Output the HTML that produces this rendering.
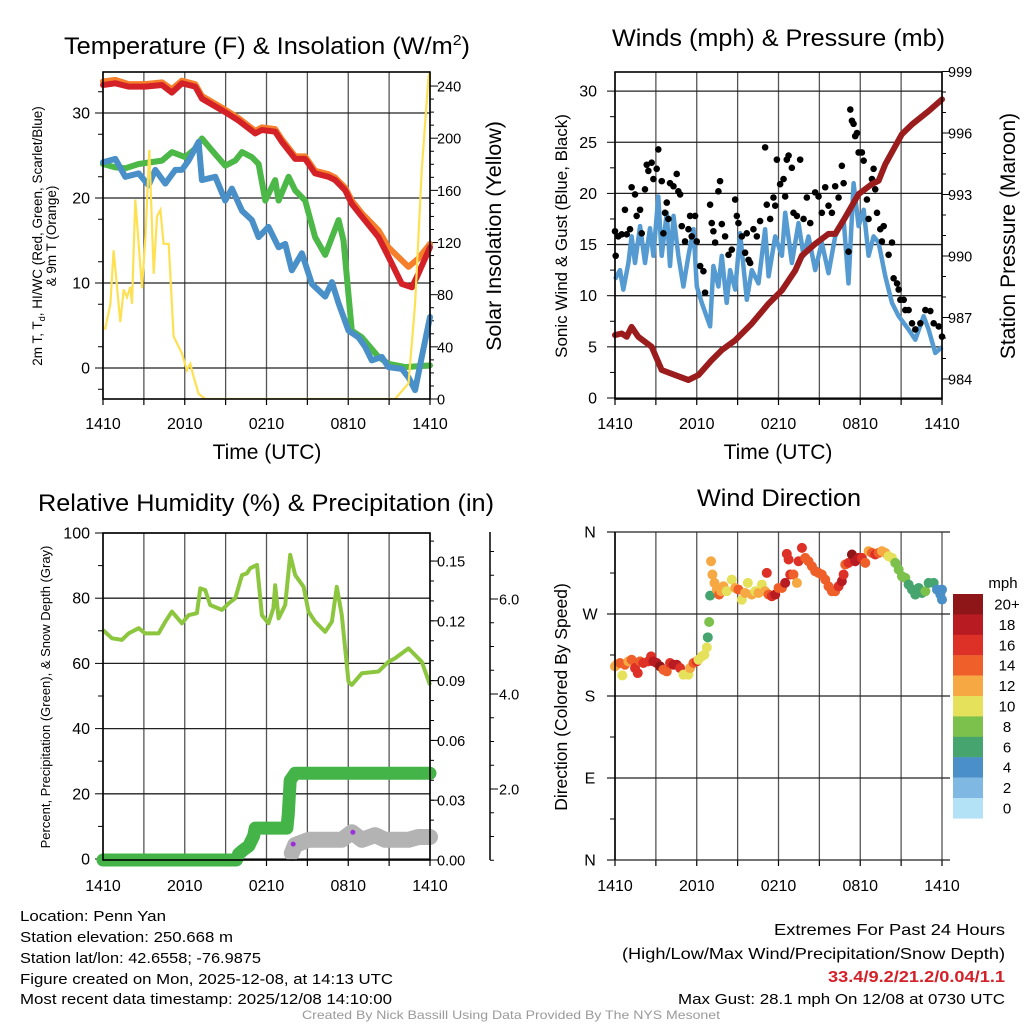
<!DOCTYPE html>
<html><head><meta charset="utf-8"><style>
html,body{margin:0;padding:0;background:#fff;}
svg{display:block;font-family:"Liberation Sans",sans-serif;}
</style></head><body>
<svg id="fig" width="1024" height="1024" viewBox="0 0 1024 1024" xmlns="http://www.w3.org/2000/svg">
<rect width="1024" height="1024" fill="#fff"/>
<g id="p1"></g>
<g id="p2"></g>
<g id="p3"></g>
<g id="p4"></g>

<text x="64" y="54" font-size="24" textLength="406" lengthAdjust="spacingAndGlyphs">Temperature (F) &amp; Insolation (W/m<tspan dy="-9" font-size="15">2</tspan><tspan dy="9">)</tspan></text>
<text x="612" y="46" font-size="24" textLength="333" lengthAdjust="spacingAndGlyphs">Winds (mph) &amp; Pressure (mb)</text>
<text x="38" y="511" font-size="24" textLength="456" lengthAdjust="spacingAndGlyphs">Relative Humidity (%) &amp; Precipitation (in)</text>
<text x="697" y="506" font-size="24" textLength="164" lengthAdjust="spacingAndGlyphs">Wind Direction</text>

<text x="267" y="459" font-size="21" text-anchor="middle">Time (UTC)</text>
<text x="778" y="459" font-size="21" text-anchor="middle">Time (UTC)</text>

<text transform="translate(42,236) rotate(-90)" font-size="13.5" text-anchor="middle">2m T, T<tspan dy="3" font-size="9">d</tspan><tspan dy="-3">, HI/WC (Red, Green, Scarlet/Blue)</tspan></text>
<text transform="translate(56,236) rotate(-90)" font-size="13.5" text-anchor="middle">&amp; 9m T (Orange)</text>
<text transform="translate(501,236) rotate(-90)" font-size="21.5" text-anchor="middle">Solar Insolation (Yellow)</text>
<text transform="translate(567,236) rotate(-90)" font-size="17" text-anchor="middle">Sonic Wind &amp; Gust (Blue, Black)</text>
<text transform="translate(1015,236) rotate(-90)" font-size="21" text-anchor="middle">Station Pressure (Maroon)</text>
<text transform="translate(50,697) rotate(-90)" font-size="13" text-anchor="middle">Percent, Precipitation (Green), &amp; Snow Depth (Gray)</text>
<text transform="translate(567,697) rotate(-90)" font-size="17.5" text-anchor="middle">Direction (Colored By Speed)</text>

<g font-size="15">
<text x="20" y="921" textLength="146" lengthAdjust="spacingAndGlyphs">Location: Penn Yan</text>
<text x="20" y="942" textLength="213" lengthAdjust="spacingAndGlyphs">Station elevation: 250.668 m</text>
<text x="20" y="963" textLength="241" lengthAdjust="spacingAndGlyphs">Station lat/lon: 42.6558; -76.9875</text>
<text x="20" y="984" textLength="373" lengthAdjust="spacingAndGlyphs">Figure created on Mon, 2025-12-08, at 14:13 UTC</text>
<text x="20" y="1004" textLength="372" lengthAdjust="spacingAndGlyphs">Most recent data timestamp: 2025/12/08 14:10:00</text>
</g>
<g font-size="16">
<text x="774" y="935" textLength="231" lengthAdjust="spacingAndGlyphs">Extremes For Past 24 Hours</text>
<text x="622" y="959" textLength="383" lengthAdjust="spacingAndGlyphs">(High/Low/Max Wind/Precipitation/Snow Depth)</text>
<text x="828" y="982" fill="#d42027" font-weight="bold" font-size="16" textLength="177" lengthAdjust="spacingAndGlyphs">33.4/9.2/21.2/0.04/1.1</text>
<text x="678" y="1004" font-size="15" textLength="327" lengthAdjust="spacingAndGlyphs">Max Gust: 28.1 mph On 12/08 at 0730 UTC</text>
</g>
<text x="302" y="1019" font-size="12" fill="#9a9a9a" textLength="418" lengthAdjust="spacingAndGlyphs">Created By Nick Bassill Using Data Provided By The NYS Mesonet</text>
</svg>
<script>
// ---------- data (hours since 1410 UTC) ----------
const xTickLabels = ["1410","2010","0210","0810","1410"];
const tempTicks = [0,10,20,30];
const insTicks = [0,40,80,120,160,200,240];
const windTicks = [0,5,10,15,20,25,30];
const presTicks = [984,987,990,993,996,999];
const rhTicks = [0,20,40,60,80,100];
const prTicks = [0,0.03,0.06,0.09,0.12,0.15];
const prTickLabels = ["0.00","0.03","0.06","0.09","0.12","0.15"];
const snowTicks = [2,4,6];
const dirTickLabels = ["N","E","S","W","N"];
const dirTicks = [0,90,180,270,360];

const tT = [0,0.9,1.88,3.1,4.33,5.06,5.79,6.77,7.26,8.97,9.95,11.17,11.66,12.64,13.13,14.11,14.84,15.57,16.55,17.04,17.78,18.26,19.0,20.22,20.95,21.93,22.67,23.03,23.89,24];
const tempV = [33.3,33.5,33.1,33.1,33.3,32.4,33.5,33.1,31.7,30.1,29.1,27.6,28.0,27.8,26.6,24.6,24.6,22.9,22.5,22.1,20.9,19.3,17.8,15.4,13.1,9.9,9.5,10.7,13.8,14.2];
const t9T = [0,0.9,1.88,3.1,4.33,5.06,5.79,6.77,7.26,8.97,9.95,11.17,11.66,12.64,13.13,14.11,14.84,15.57,16.55,17.04,17.78,18.26,19.0,20.22,20.95,22.42,23.15,24];
const t9V = [33.7,33.9,33.4,33.4,33.6,32.8,33.8,33.4,32.0,30.4,29.4,27.9,28.3,28.1,26.9,24.9,24.9,23.2,22.8,22.4,21.2,19.7,18.2,16.2,14.2,11.9,12.9,14.6];
const tdT = [0,0.9,1.64,2.62,4.33,5.06,6.04,6.77,7.26,8.0,8.97,9.71,10.2,10.93,11.42,11.91,12.64,12.89,13.62,14.11,14.84,15.57,16.31,17.29,17.65,18.26,19.0,20.22,20.95,22.18,24];
const tdV = [24.0,23.6,23.5,24.0,24.4,25.4,24.8,25.8,27.0,25.6,23.8,24.4,25.4,24.8,24.0,19.7,22.1,19.7,22.5,20.9,19.7,15.4,13.3,17.4,15.0,4.4,3.6,1.3,0.5,0.1,0.3];
const wcT = [0,0.9,1.64,2.62,3.35,3.84,4.57,5.31,5.79,6.28,7.02,7.26,8.24,8.97,9.46,10.2,10.93,11.42,12.15,12.89,13.37,13.86,14.6,15.33,16.31,16.8,17.29,18.02,18.75,19.24,19.73,20.46,20.95,21.93,22.42,22.91,23.4,24];
const wcV = [24.2,24.6,22.5,22.9,21.5,23.3,21.7,23.3,23.3,24.4,26.6,22.1,22.5,19.7,21.1,18.5,17.4,15.4,16.6,14.2,14.6,11.5,13.5,9.9,8.4,10.1,7.6,4.4,3.6,2.5,0.9,1.3,0.1,-0.1,-1.1,-2.6,1.3,6.0];
const insT = [0,0.17,0.54,0.78,1.27,1.52,1.76,2.0,2.13,2.37,2.86,3.11,3.4,3.72,3.96,4.21,4.45,4.82,5.18,5.79,6.16,6.41,6.65,7.02,7.51,21.44,22.42,22.91,23.4,23.89,24];
const insV = [55,54,73,114,59,84,78,86,73,153,85,124,191,96,140,145,119,119,48,35,22,27,17,4,0,0,12,73,176,247,252];

const windT = [0,0.37,0.61,0.98,1.22,1.47,1.84,2.2,2.57,2.82,3.18,3.43,3.8,4.04,4.29,4.65,5.02,5.39,5.76,6.0,6.37,6.98,7.22,7.59,7.84,8.2,8.45,8.82,9.18,9.67,10.04,10.53,11.02,11.27,11.76,12.25,12.49,12.98,13.47,13.84,14.2,14.69,15.18,15.67,16.16,16.78,17.14,17.51,17.88,18.25,18.61,18.98,19.35,19.84,20.33,20.82,21.55,22.04,22.65,23.02,23.51,24];
const windV = [11.6,12.5,10.6,13.2,15.8,13.2,16.8,13.2,16.6,13.9,19.7,13.9,18.1,12.9,17.8,13.9,10.9,13.9,16.5,10.9,9.3,7.0,12.9,10.9,13.9,9.3,12.5,10.6,16.1,9.6,12.5,11.2,16.5,11.9,15.8,13.9,18.1,13.2,17.1,13.9,15.8,12.5,15.2,12.2,15.8,17.5,11.2,21.0,16.8,18.4,13.9,15.8,15.2,11.9,9.3,8.0,6.7,5.7,8.0,6.7,4.4,5.0];
const gustT = [0,0.05,0.24,0.49,0.73,0.86,1.1,1.22,1.47,1.59,1.84,1.96,2.2,2.33,2.45,2.69,2.82,3.06,3.18,3.43,3.55,3.67,3.8,3.92,4.04,4.29,4.53,4.65,4.78,4.9,5.14,5.39,5.51,5.63,5.88,6.0,6.25,6.49,6.61,6.98,7.1,7.22,7.35,7.59,7.71,7.84,8.08,8.33,8.57,8.82,8.94,9.06,9.31,9.55,9.67,9.8,9.92,10.16,10.41,10.65,11.02,11.14,11.39,11.63,11.76,11.88,12.12,12.37,12.49,12.61,12.74,12.98,13.1,13.35,13.59,13.84,14.08,14.33,14.69,14.94,15.18,15.43,15.67,15.92,16.16,16.41,16.65,16.78,17.14,17.27,17.39,17.51,17.63,17.76,17.88,18.12,18.25,18.49,18.61,18.86,18.98,19.1,19.23,19.47,19.59,19.72,20.08,20.33,20.45,20.7,20.82,20.94,21.19,21.31,21.55,21.8,22.04,22.41,22.78,23.14,23.39,23.76,24.0];
const gustV = [16.3,13.9,15.8,16.0,18.4,16.0,16.5,20.6,19.9,17.8,18.4,16.1,20.4,22.8,22.2,23.0,21.4,22.4,24.3,21.2,16.1,18.1,19.1,17.5,21.0,20.7,21.9,20.2,19.9,16.8,15.3,16.5,17.8,15.8,17.8,15.3,12.9,12.4,10.3,18.9,17.1,16.3,15.2,20.2,21.2,17.0,15.8,14.0,14.5,19.4,17.8,17.1,15.8,14.2,16.1,13.5,13.2,16.5,15.8,17.3,24.5,18.9,17.5,19.6,18.8,23.3,20.9,21.4,19.7,23.3,23.7,22.5,18.1,17.8,23.3,17.5,19.6,17.1,20.1,19.7,18.1,20.6,18.8,18.1,20.7,19.6,22.7,21.0,14.3,28.2,27.1,26.8,25.6,25.9,24.0,24.0,23.2,19.4,17.5,21.4,22.4,20.4,18.1,16.5,15.3,16.8,14.0,15.2,11.7,11.2,10.6,9.6,9.6,8.6,8.6,7.3,6.7,7.3,8.6,8.5,7.3,7.0,6.0];
const presT = [0,0.49,0.86,1.22,1.71,2.69,3.43,4.41,5.39,6.12,7.1,7.84,8.82,10.04,11.27,12.25,13.23,13.72,14.69,15.67,16.16,16.9,17.88,18.86,19.35,19.84,21.06,21.8,23.02,24];
const presV = [986.14,986.22,986.06,986.54,986.06,985.57,984.44,984.19,983.95,984.19,984.92,985.41,985.89,986.7,987.68,988.32,989.3,990.02,990.59,991.08,991.08,991.89,993.02,993.51,993.67,994.48,995.94,996.42,997.07,997.64];

const rhT = [0,0.66,1.39,1.88,2.62,3.1,4.08,4.57,5.06,5.79,6.28,6.89,7.14,7.5,7.87,8.73,9.22,9.71,10.2,10.56,10.81,11.3,11.66,12.15,12.51,12.64,12.89,13.37,13.74,14.11,14.72,15.08,15.57,16.31,16.8,17.16,17.53,18.02,18.26,19.0,20.22,20.95,21.44,22.42,23.4,24];
const rhV = [70.2,67.7,67.2,69.2,70.8,69.2,69.2,72.8,75.9,72.3,74.8,75.4,83.0,82.5,77.9,76.4,78.4,80.0,87.1,87.6,89.2,90.2,74.8,72.3,76.9,84.0,73.8,77.9,93.3,87.1,83.5,75.9,72.8,69.7,72.8,83.5,74.8,54.4,53.4,57.0,57.5,60.5,61.6,64.6,60.5,53.4];
const precipT = [0,9.8,9.95,10.3,10.7,11.05,11.17,13.5,13.6,13.74,14.1,24];
const precipV = [0,0,0.003,0.005,0.007,0.012,0.016,0.016,0.023,0.040,0.0435,0.0435];
const snowT = [13.86,14.1,15.09,16.55,17.53,18.26,19.0,19.98,20.7,22.42,23.15,24];
const snowV = [0.65,0.82,0.93,0.93,0.93,1.09,0.93,1.03,0.93,0.93,0.99,0.99];
const snowFlagT = [13.96,18.34];
const snowFlagV = [0.84,1.09];

const dirT = [0,0.12,0.37,0.54,0.73,0.98,1.22,1.47,1.67,1.84,2.08,2.45,2.65,2.82,3.06,3.31,3.55,3.8,4.04,4.29,4.53,4.78,5.02,5.39,5.51,5.76,6.0,6.12,6.37,6.56,6.74,6.81,6.91,6.98,7.05,7.15,7.3,7.47,7.64,7.79,7.96,8.2,8.57,8.82,9.06,9.31,9.55,9.75,10.04,10.29,10.53,10.78,11.02,11.14,11.27,11.51,11.76,12.0,12.25,12.49,12.61,12.74,12.86,13.1,13.35,13.47,13.72,13.96,14.2,14.45,14.69,14.94,15.18,15.43,15.67,15.92,16.16,16.41,16.65,16.78,16.9,17.14,17.39,17.63,17.88,18.12,18.37,18.61,18.86,19.1,19.35,19.59,19.84,20.08,20.33,20.57,20.82,21.06,21.31,21.55,21.8,22.04,22.29,22.53,22.78,23.02,23.39,23.63,23.88,24.0,24.0];
const dirV = [212.5,214.3,216.2,202.6,214.3,218,219.8,210.7,205.2,218,216.2,218,223.5,218,216.2,212.5,208.8,207,216.2,214.3,214.3,210.7,203.4,203.4,210.7,216.2,218,219.8,223.5,225.3,233.4,244.4,261.2,290.2,327.9,313.3,304.1,296.8,291.3,295,300.4,295,307.8,298.6,296.8,285.7,293.1,304.1,291.3,295,293.1,302.3,295,315.1,291.3,289.5,291.3,298.6,298.6,304.1,336,329.8,313.3,313.3,304.1,327.9,342.6,331.6,327.9,322.4,317,315.1,313.3,307.8,300.4,295,295,300.4,306,313.3,324.3,326.1,335.3,327.9,331.6,331.6,326.1,339,337.1,335.3,337.1,339,337.1,333.4,331.6,326.1,318.8,311.4,309.6,302.3,296.8,291.3,298.6,293.1,295,304.1,304.1,296.8,291.3,285.8,296.8];
const dirSpd = [12,12,14,10,14,12,14,16,16,14,16,16,16,18,18,20,14,14,16,18,18,16,10,10,12,14,16,10,10,10,10,6,8,6,12,12,12,12,14,12,12,10,10,12,14,10,12,10,12,10,12,10,12,16,14,16,18,14,14,18,16,16,16,14,12,16,16,14,14,14,14,14,14,14,14,14,14,16,18,16,14,16,20,18,18,16,14,12,14,16,14,12,12,10,10,8,8,8,8,6,6,6,6,6,8,6,6,4,4,4,4];
const spdLabels = ["20+","18","16","14","12","10","8","6","4","2","0"];
const spdColors = ["#8e1518","#b81b22","#dd3127","#ef5f2a","#f6a843","#e5e15a","#7cc14c","#46a56e","#4a8fc8","#7fb8e3","#b3e2f7"];

// ---------- helpers ----------
const NS = "http://www.w3.org/2000/svg";
function mk(parent, tag, attrs, txt){
  const e = document.createElementNS(NS, tag);
  for (const k in attrs) e.setAttribute(k, attrs[k]);
  if (txt !== undefined) e.textContent = txt;
  parent.appendChild(e);
  return e;
}
function pathFrom(ts, vs, X, Y){
  let d = "";
  for (let i = 0; i < ts.length; i++) d += (i ? "L" : "M") + X(ts[i]).toFixed(1) + "," + Y(vs[i]).toFixed(1);
  return d;
}
function spdColor(s){
  let idx = 10 - Math.min(10, Math.floor(s / 2));
  return spdColors[idx];
}

function frame(g, x0, x1, y0, y1, X, labY){
  const grid = mk(g, "g", {});
  
  
  for (let h = 0; h <= 24; h += 3){
    const l = mk(grid, "line", {x1: X(h), x2: X(h), y1: y0, y2: y1, stroke: "#555", "stroke-width": 1.3});
    
    
    const tk = mk(grid, "line", {x1: X(h), x2: X(h), y1: y1, y2: y1 + 6, stroke: "#000", "stroke-width": 1.2});
    
    
  }
  xTickLabels.forEach((lab, i) => {
    const t = mk(g, "text", {x: X(i * 6), y: labY, "font-size": 16, "text-anchor": "middle"}, lab);
    
    
  });
}
function hgrid(g, x0, x1, y){
  const l = mk(g, "line", {x1: x0, x2: x1, y1: y, y2: y, stroke: "#222", "stroke-width": 1.3});
  
  
}
function border(g, x0, x1, y0, y1){
  const r = mk(g, "rect", {x: x0, y: y0, width: x1 - x0, height: y1 - y0, fill: "none", stroke: "#000", "stroke-width": 1.6});
  
  
}
function yLabel(g, x, y, txt, anchor, size){
  const t = mk(g, "text", {x: x, y: y + 5.5, "font-size": size || 16, "text-anchor": anchor}, txt);
  
  
}
function tick(g, x, y, len){
  const l = mk(g, "line", {x1: x, x2: x + len, y1: y, y2: y, stroke: "#000", "stroke-width": 1});
  
  
}

// ---------- Panel 1 ----------
(function(){
  const g = document.getElementById("p1");
  const x0 = 103, x1 = 430, y0 = 72, y1 = 399;
  const X = t => x0 + t * (x1 - x0) / 24;
  const TY = v => 368 - v * 8.5;
  const IY = w => y1 - w * 1.304;
  frame(g, x0, x1, y0, y1, X, 429);
  tempTicks.forEach(v => { hgrid(g, x0, x1, TY(v)); tick(g, x0 - 8, TY(v), 8); yLabel(g, 90, TY(v), String(v), "end"); });
  for (let v = -2.5; v < 35; v += 5) if (v % 10 !== 0) tick(g, x0 - 5, TY(v), 5);
  insTicks.forEach(w => { tick(g, x1, IY(w), 8); yLabel(g, 437, IY(w), String(w), "start", 14.5); });
  for (let w = 10; w < 250; w += 10) if (w % 40) tick(g, x1, IY(w), 4);
  const defs = [[t9T, t9V, "#f57f2a", "nine-meter-temp-line"], [tT, tempV, "#d42027", "temperature-line"], [tdT, tdV, "#4cb847", "dewpoint-line"], [wcT, wcV, "#4a90c8", "wind-chill-line"]];
  defs.forEach(d => {
    const p = mk(g, "path", {d: pathFrom(d[0], d[1], X, TY), fill: "none", stroke: d[2], "stroke-width": 6, "stroke-linejoin": "round", "stroke-linecap": "round"});
    
    
  });
  const cp = mk(g, "clipPath", {id: "c1"});
  mk(cp, "rect", {x: x0, y: y0, width: x1 - x0, height: y1 - y0});
  const ins = mk(g, "path", {d: pathFrom(insT, insV, X, IY), fill: "none", stroke: "#fde153", "stroke-width": 2.2, "clip-path": "url(#c1)"});
  
  
  border(g, x0, x1, y0, y1);
})();

// ---------- Panel 2 ----------
(function(){
  const g = document.getElementById("p2");
  const x0 = 615, x1 = 942, y0 = 72, y1 = 399;
  const X = t => x0 + t * (x1 - x0) / 24;
  const WY = v => 398 - v * 10.23;
  const PY = p => 379 - (p - 984) * 20.5;
  frame(g, x0, x1, y0, y1, X, 429);
  windTicks.forEach(v => { hgrid(g, x0, x1, WY(v)); tick(g, x0 - 8, WY(v), 8); yLabel(g, 597, WY(v), String(v), "end"); });
  for (let v = 2.5; v < 32; v += 5) tick(g, x0 - 5, WY(v), 5);
  presTicks.forEach(p => { tick(g, x1, PY(p), 8); yLabel(g, 948, PY(p), String(p), "start", 14.5); });
  for (let p = 985; p < 999.5; p += 1) if ((p - 984) % 3) tick(g, x1, PY(p), 4);
  const w = mk(g, "path", {d: pathFrom(windT, windV, X, WY), fill: "none", stroke: "#559bd2", "stroke-width": 4.5, "stroke-linejoin": "round"});
  
  
  gustT.forEach((t, i) => {
    const c = mk(g, "circle", {cx: X(t), cy: WY(gustV[i]), r: 3.3, fill: "#000"});
    
    
  });
  const p = mk(g, "path", {d: pathFrom(presT, presV, X, PY), fill: "none", stroke: "#9b1c1c", "stroke-width": 6, "stroke-linejoin": "round", "stroke-linecap": "round"});
  
  
  border(g, x0, x1, y0, y1);
})();

// ---------- Panel 3 ----------
(function(){
  const g = document.getElementById("p3");
  const x0 = 103, x1 = 430, y0 = 533, y1 = 860;
  const X = t => x0 + t * (x1 - x0) / 24;
  const RY = v => 859 - v * 3.26;
  const PRY = v => 860 - v * 1993;
  const SY = v => 884 - v * 47.5;
  frame(g, x0, x1, y0, y1, X, 891);
  rhTicks.forEach(v => { hgrid(g, x0, x1, RY(v)); tick(g, x0 - 8, RY(v), 8); yLabel(g, 90, RY(v), String(v), "end"); });
  for (let v = 10; v < 100; v += 20) tick(g, x0 - 5, RY(v), 5);
  prTicks.forEach((v, i) => { tick(g, x1, PRY(v), 8); yLabel(g, 437, PRY(v), prTickLabels[i], "start", 14.5); });
  for (let v = 0.01; v < 0.165; v += 0.01) tick(g, x1, PRY(v), 4);
  const ax = mk(g, "line", {x1: 490, x2: 490, y1: 532, y2: 860, stroke: "#000", "stroke-width": 1.5});
  
  
  snowTicks.forEach(v => { tick(g, 490, SY(v), 8); yLabel(g, 499, SY(v), v.toFixed(1), "start", 14.5); });
  for (let v = 0.5; v <= 7; v += 0.5) if (v % 2) tick(g, 490, SY(v), 4);
  const rh = mk(g, "path", {d: pathFrom(rhT, rhV, X, RY), fill: "none", stroke: "#8cc63f", "stroke-width": 4, "stroke-linejoin": "round"});
  
  
  const pr = mk(g, "path", {d: pathFrom(precipT, precipV, X, PRY), fill: "none", stroke: "#44b449", "stroke-width": 13, "stroke-linejoin": "round", "stroke-linecap": "round"});
  
  
  const sn = mk(g, "path", {d: pathFrom(snowT, snowV, X, SY), fill: "none", stroke: "#b3b3b3", "stroke-width": 16, "stroke-linejoin": "round", "stroke-linecap": "round"});
  
  
  snowFlagT.forEach((t, i) => {
    const c = mk(g, "circle", {cx: X(t), cy: SY(snowFlagV[i]), r: 2.5, fill: "#9b30d9"});
    
    
  });
  border(g, x0, x1, y0, y1);
})();

// ---------- Panel 4 ----------
(function(){
  const g = document.getElementById("p4");
  const x0 = 615, x1 = 942, y0 = 532, y1 = 860;
  const X = t => x0 + t * (x1 - x0) / 24;
  const DY = d => 860 - d * 0.9111;
  frame(g, x0, x1, y0, y1, X, 891);
  dirTicks.forEach((d, i) => { hgrid(g, x0 - 8, x1 + 8, DY(d)); yLabel(g, 590, DY(d), dirTickLabels[i], "middle"); });
  for (let d = 45; d < 360; d += 90) tick(g, x0 - 5, DY(d), 5);
  dirT.forEach((t, i) => {
    const c = mk(g, "circle", {cx: X(t), cy: DY(dirV[i]), r: 5, fill: spdColor(dirSpd[i])});
    
    
  });
  const l = mk(g, "line", {x1: x0, x2: x0, y1: y0, y2: y1, stroke: "#000", "stroke-width": 1.6});
  
  
  const cb = mk(g, "g", {});
  
  
  const mph = mk(cb, "text", {x: 1003, y: 588, "font-size": 15, "text-anchor": "middle"}, "mph");
  
  
  spdLabels.forEach((lab, i) => {
    const y = 594 + i * 20.4;
    const r = mk(cb, "rect", {x: 953, y: y, width: 30, height: 20.6, fill: spdColors[i]});
    
    
    const t = mk(cb, "text", {x: 1007, y: y + 15.5, "font-size": 15, "text-anchor": "middle"}, lab);
    
    
  });
})();
</script>
</body></html>
